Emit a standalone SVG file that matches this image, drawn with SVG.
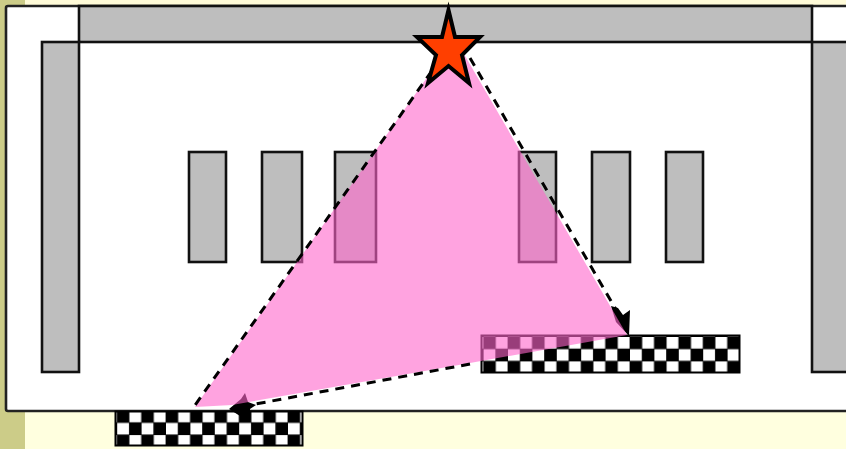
<svg xmlns="http://www.w3.org/2000/svg" width="846" height="449" viewBox="0 0 846 449">
<defs>
<style>
.wall{fill:#bebebe;stroke:#111;stroke-width:2.6}
.dash{fill:none;stroke:#000;stroke-width:3;stroke-dasharray:9 7}
.head{fill:#000}
</style>
<pattern id="checker" width="24.4" height="24.4" patternUnits="userSpaceOnUse" patternTransform="translate(117.2 410.7)">
<rect width="24.4" height="24.4" fill="#000"/>
<rect x="12.2" y="0" width="11.8" height="11.6" fill="#fff"/>
<rect x="0" y="12.2" width="11.8" height="11.6" fill="#fff"/>
</pattern>
<pattern id="checker2" width="24.4" height="24.4" patternUnits="userSpaceOnUse" patternTransform="translate(483.6 337)">
<rect width="24.4" height="24.4" fill="#000"/>
<rect x="12.2" y="0" width="11.8" height="11.6" fill="#fff"/>
<rect x="0" y="12.2" width="11.8" height="11.6" fill="#fff"/>
</pattern>
</defs>
<rect width="846" height="449" fill="#ffffdf"/>
<rect width="25" height="449" fill="#cccc88"/>
<rect x="25" width="821" height="5" fill="#fffbd8"/>
<rect id="room" x="6" y="6" width="860" height="405" rx="2" fill="#fff" stroke="#222" stroke-width="2.6"/>
<g id="top-wall"><rect class="wall" x="79" y="6" width="733" height="36"/></g>
<g id="left-wall"><rect class="wall" x="42" y="42" width="37" height="330"/></g>
<g id="right-wall"><rect class="wall" x="812" y="42" width="50" height="330"/></g>
<g id="pillar-1"><rect class="wall" x="189" y="152" width="37" height="110"/></g>
<g id="pillar-2"><rect class="wall" x="262" y="152" width="40" height="110"/></g>
<g id="pillar-3"><rect class="wall" x="335" y="152" width="41" height="110"/></g>
<g id="pillar-4"><rect class="wall" x="519" y="152" width="37" height="110"/></g>
<g id="pillar-5"><rect class="wall" x="592" y="152" width="38" height="110"/></g>
<g id="pillar-6"><rect class="wall" x="666" y="152" width="37" height="110"/></g>
<g id="receiver-right"><rect x="481.5" y="335.5" width="258" height="37" fill="url(#checker2)" stroke="#000" stroke-width="2"/></g>
<g id="receiver-bottom"><rect x="115.5" y="411.5" width="187" height="34" fill="url(#checker)" stroke="#000" stroke-width="2"/></g>
<g id="connectors">
<path class="head" d="M629 336L630 310L623 315L618 308L611 306L616 322Z"/>
<path class="head" d="M229 409L241 399L245 393L248 402L256 405L250 409L250 416L240 416Z"/>
</g>
<polygon id="coverage" points="452,42 457,42 627,335 470,363 232,405 195,407" fill="#ff66cc" fill-opacity=".6"/>
<g id="dashed-edges">
<path class="dash" d="M441 58L193 408"/>
<path class="dash" d="M470 58L622 320"/>
<path class="dash" d="M470 364L245 406"/>
</g>
<g id="source"><polygon points="448.5,10 455,37 480,37 462,55 469,83 448.5,66 428,83 436,55 417,37 442,37" fill="#ff3f00" stroke="#000" stroke-width="4" stroke-miterlimit="10"/></g>
</svg>
